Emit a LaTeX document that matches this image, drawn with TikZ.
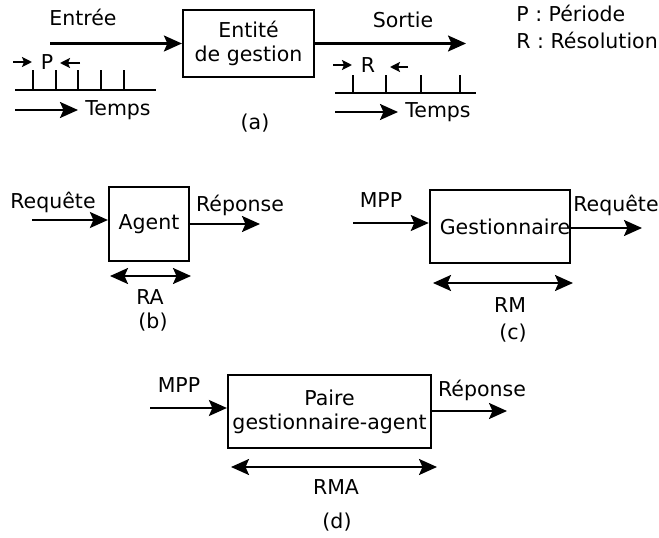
\documentclass[tikz,border=0pt]{standalone}
\usepackage{fontspec}
\setmainfont{DejaVu Sans}
\usetikzlibrary{arrows.meta}

\begin{document}
\begin{tikzpicture}[x=1pt,y=-1pt,line width=2.2pt,
    font=\fontsize{20.5}{25}\selectfont,
    fleche/.style={-{Stealth[length=18pt,width=16pt,inset=3.5pt]}},
    double/.style={{Stealth[length=18pt,width=16pt,inset=3.5pt]}-{Stealth[length=18pt,width=16pt,inset=3.5pt]}},
    petite/.style={-{Stealth[length=10pt,width=10pt,inset=2pt]}},
    bloc/.style={draw,align=center,inner sep=0pt}]
      \useasboundingbox (0,0) rectangle (659,538);
      % (a)
      \node [bloc,minimum width=131,minimum height=67] (entite) at (248.5,43.5) {Entit\'e\\[-1pt]de gestion};
      \coordinate (entree) at (50,43.5);
      \coordinate (sortie) at (466,43.5);
      \draw [fleche] (entree) -- (entite);
      \draw [fleche] (entite) -- (sortie);
      \node (lentree) at (83,17) {Entr\'ee};
      \node (lsortie) at (403,20) {Sortie};
      \node (p) at (47,62) {P};
      \draw [petite] (13,62) -- (32,62);
      \draw [petite] (80,63) -- (60,63);
      \draw (15,90) -- (156,90);
      \foreach \x in {33,56,78,101,124}
        \draw (\x,70) -- (\x,90);
      \coordinate (t1) at (15,110);
      \node (temps1) at (118,110) {Temps};
      \draw [fleche] (t1) -- (78,110);
      \node (a) at (255,123) {(a)};
      \node (r) at (368,65) {R};
      \draw [petite] (333,65) -- (352,65);
      \draw [petite] (408,67) -- (390,67);
      \draw (335,93) -- (476,93);
      \foreach \x in {353,386,421,460}
        \draw (\x,75) -- (\x,93);
      \coordinate (t2) at (335,112);
      \node (temps2) at (438,112) {Temps};
      \draw [fleche] (t2) -- (398,112);
      \node [anchor=west] (leg1) at (512,13) {P : P\'eriode};
      \node [anchor=west] (leg2) at (512,40) {R : R\'esolution};
      % (b)
      \node [bloc,minimum width=80,minimum height=74] (agent) at (149,224) {Agent};
      \coordinate (reqb) at (32,220);
      \coordinate (repb) at (260,224);
      \draw [fleche] (reqb) -- (reqb -| agent.west);
      \draw [fleche] (agent) -- (repb);
      \node (lreqb) at (53,202) {Requ\^ete};
      \node (lrepb) at (240,205) {R\'eponse};
      \coordinate (rag) at (110,276);
      \coordinate (rad) at (191,276);
      \draw [double] (rag) -- (rad);
      \node (ra) at (150,297) {RA};
      \node (b) at (153,322) {(b)};
      % (c)
      \node [bloc,minimum width=140,minimum height=73] (gest) at (500,226.5) {\hspace{10pt}Gestionnaire};
      \coordinate (mppc) at (353,223);
      \coordinate (reqc) at (642,228);
      \draw [fleche] (mppc) -- (mppc -| gest.west);
      \draw [fleche] (reqc -| gest.east) -- (reqc);
      \node (lmppc) at (381,200) {MPP};
      \node (lreqc) at (616,205) {Requ\^ete};
      \coordinate (rmg) at (433,283);
      \coordinate (rmd) at (573,283);
      \draw [double] (rmg) -- (rmd);
      \node (rm) at (510,305) {RM};
      \node (c) at (513,333) {(c)};
      % (d)
      \node [bloc,minimum width=203,minimum height=73] (paire) at (329.5,411.5) {Paire\\[-1pt]gestionnaire-agent};
      \coordinate (mppd) at (150,408);
      \coordinate (repd) at (507,411);
      \draw [fleche] (mppd) -- (mppd -| paire.west);
      \draw [fleche] (repd -| paire.east) -- (repd);
      \node (lmppd) at (179,385) {MPP};
      \node (lrepd) at (482,390) {R\'eponse};
      \coordinate (rmag) at (231,467);
      \coordinate (rmad) at (437,467);
      \draw [double] (rmag) -- (rmad);
      \node (rma) at (336,487) {RMA};
      \node (d) at (337,522) {(d)};
    \end{tikzpicture}
\end{document}
